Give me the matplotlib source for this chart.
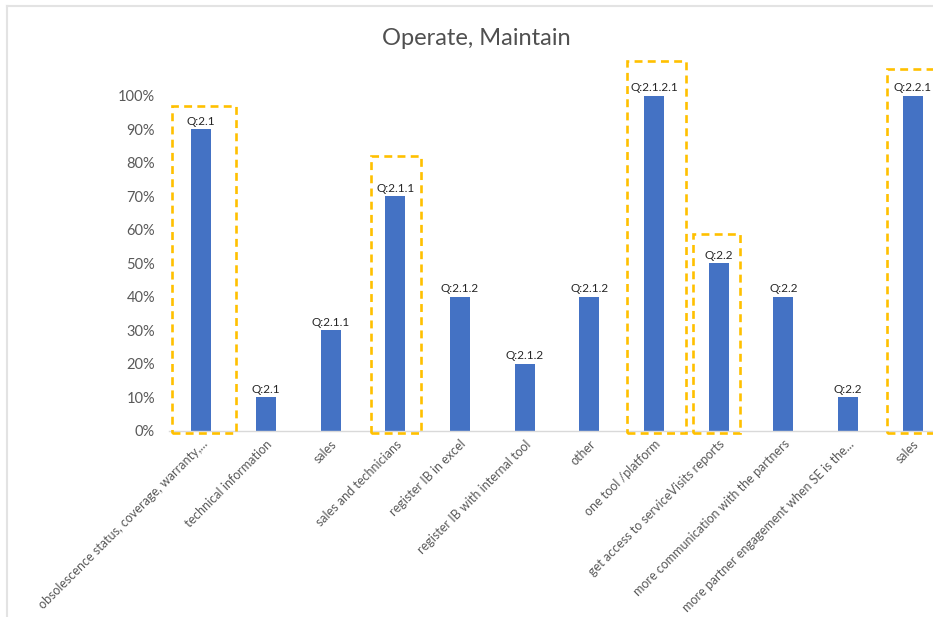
import matplotlib
matplotlib.use("Agg")
import matplotlib.pyplot as plt
from matplotlib.patches import Rectangle
from matplotlib.lines import Line2D
from matplotlib.ticker import PercentFormatter

plt.rcParams["font.family"] = ["Lato", "DejaVu Sans"]

# ---- data ----
categories = [
    "obsolescence status, coverage, warranty,...",
    "technical information",
    "sales",
    "sales and technicians",
    "register IB in excel",
    "register IB with internal tool",
    "other",
    "one tool /platform",
    "get access to serviceVisits reports",
    "more communication with the partners",
    "more partner engagement when SE is the...",
    "sales",
]
values = [0.9, 0.1, 0.3, 0.7, 0.4, 0.2, 0.4, 1.0, 0.5, 0.4, 0.1, 1.0]
questions = ["Q:2.1", "Q:2.1", "Q:2.1.1", "Q:2.1.1", "Q:2.1.2", "Q:2.1.2",
             "Q:2.1.2", "Q:2.1.2.1", "Q:2.2", "Q:2.2", "Q:2.2", "Q:2.2.1"]

# highlighted bars: (index, left offset, right offset, box top)
highlights = [
    (0, -0.45, 0.54, 0.97),
    (3, -0.37, 0.39, 0.82),
    (7, -0.42, 0.49, 1.105),
    (8, -0.39, 0.33, 0.588),
    (11, -0.40, 0.75, 1.08),
]

fig = plt.figure(figsize=(9.33, 6.17), dpi=100)
ax = fig.add_axes([0.1811, 0.3015, 0.8317, 0.543])

x = range(len(values))
bars = ax.bar(x, values, width=0.31, color="#4472C4", zorder=2)
ax.bar_label(bars, labels=questions, padding=2, fontsize=8.5, color="#262626")

ax.set_xlim(-0.5, len(values) - 0.5)
ax.set_ylim(0, 1.0)
ax.set_yticks([i / 10 for i in range(11)])
ax.yaxis.set_major_formatter(PercentFormatter(1.0, decimals=0))
ax.tick_params(axis="y", length=0, labelsize=10.5, labelcolor="#595959", pad=10)
ax.tick_params(axis="x", length=0, labelsize=9, labelcolor="#595959", pad=5)
ax.set_xticks(list(x))
ax.set_xticklabels(categories, rotation=45, ha="right", rotation_mode="anchor")

for s in ["left", "right", "top"]:
    ax.spines[s].set_visible(False)
ax.spines["bottom"].set_color("#D9D9D9")
ax.spines["bottom"].set_linewidth(1.0)

for i, lo, hi, top in highlights:
    ax.add_patch(Rectangle((i + lo, -0.006), hi - lo, top + 0.006, fill=False,
                           edgecolor="#FFC000", linewidth=1.9,
                           linestyle=(0, (3, 2)), clip_on=False, zorder=3))

fig.text(0.51, 0.938, "Operate, Maintain", ha="center", va="center",
         fontsize=17, color="#505050")

# screenshot frame (top and left edges)
fig.add_artist(Line2D([0.0075, 1.0], [0.990, 0.990], color="#E3E3E3", lw=1.5))
fig.add_artist(Line2D([0.0075, 0.0075], [0.0, 0.990], color="#E3E3E3", lw=1.5))

fig.savefig("out.png", dpi=100)
